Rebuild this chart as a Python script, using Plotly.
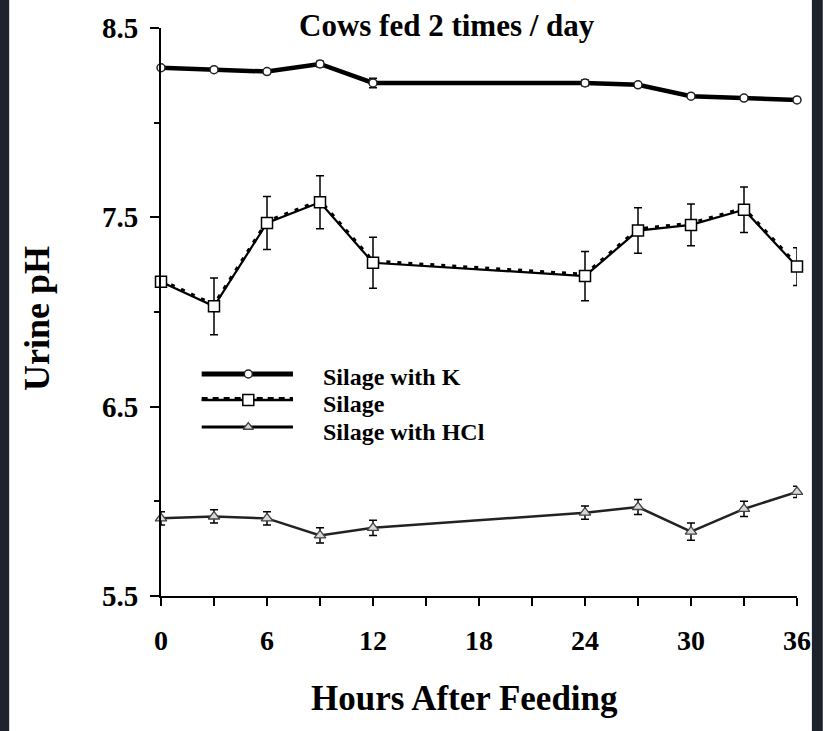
import plotly.graph_objects as go

# ---------------- data ----------------
hours = [0, 3, 6, 9, 12, 24, 27, 30, 33, 36]
ph_k = [8.29, 8.28, 8.27, 8.31, 8.21, 8.21, 8.20, 8.14, 8.13, 8.12]
err_k = [0.01, 0.01, 0.01, 0.015, 0.025, 0.015, 0.01, 0.01, 0.01, 0.01]
ph_silage = [7.16, 7.03, 7.47, 7.58, 7.26, 7.19, 7.43, 7.46, 7.54, 7.24]
err_silage = [0.0, 0.15, 0.14, 0.14, 0.135, 0.13, 0.12, 0.11, 0.12, 0.10]
ph_hcl = [5.91, 5.92, 5.91, 5.82, 5.86, 5.94, 5.97, 5.84, 5.96, 6.05]
err_hcl = [0.035, 0.035, 0.035, 0.04, 0.04, 0.035, 0.04, 0.045, 0.04, 0.03]
series_names = ["Silage with K", "Silage", "Silage with HCl"]
x_tickvals = [0, 3, 6, 9, 12, 15, 18, 21, 24, 27, 30, 33, 36]
x_ticktext = ["0", "", "6", "", "12", "", "18", "", "24", "", "30", "", "36"]
y_tickvals = [5.5, 6.5, 7.5, 8.5]
y_ticktext = ["5.5", "6.5", "7.5", "8.5"]

# ---------------- geometry ----------------
W, H = 823, 731
L, R, T, B = 161, 802, 28, 596  # plot area in pixels
SERIF = "Liberation Serif"


def px(xp):
    return (xp - L) / (R - L)


def py(yp):
    return (B - yp) / (B - T)


fig = go.Figure()

# Silage with K
fig.add_trace(go.Scatter(
    x=hours, y=ph_k, mode="lines+markers", name=series_names[0],
    line=dict(color="black", width=4.5),
    marker=dict(symbol="circle", size=8, color="white",
                line=dict(color="#222", width=1.5)),
    error_y=dict(type="data", array=err_k, color="black", thickness=1.5, width=4),
    cliponaxis=False, showlegend=False))

# Silage (solid + dashed overlay)
fig.add_trace(go.Scatter(
    x=hours, y=ph_silage, mode="lines", name=series_names[1],
    line=dict(color="black", width=2.2), cliponaxis=False, showlegend=False))
fig.add_trace(go.Scatter(
    x=hours, y=[v + 0.008 for v in ph_silage], mode="lines", name=series_names[1],
    line=dict(color="black", width=3.5, dash="4px,7px"), cliponaxis=False,
    showlegend=False, hoverinfo="skip"))
fig.add_trace(go.Scatter(
    x=hours, y=ph_silage, mode="markers", name=series_names[1],
    marker=dict(symbol="square", size=11, color="white",
                line=dict(color="black", width=1.5)),
    error_y=dict(type="data", array=err_silage, color="black", thickness=1.5, width=4),
    cliponaxis=False, showlegend=False))

# Silage with HCl
fig.add_trace(go.Scatter(
    x=hours, y=ph_hcl, mode="lines+markers", name=series_names[2],
    line=dict(color="#222", width=2.5),
    marker=dict(symbol="triangle-up", size=10, color="#d8d8d8",
                line=dict(color="#444", width=1.3)),
    error_y=dict(type="data", array=err_hcl, color="black", thickness=1.5, width=4),
    cliponaxis=False, showlegend=False))

# ---------------- custom legend (pixel-based overlay axes) ----------------
leg_rows = [374, 400, 427]
lx0, lx1, lxm = 202, 294, 249
# K
fig.add_trace(go.Scatter(x=[lx0, lx1], y=[leg_rows[0]] * 2, mode="lines",
                         line=dict(color="black", width=5), xaxis="x2", yaxis="y2",
                         showlegend=False, hoverinfo="skip", cliponaxis=False))
fig.add_trace(go.Scatter(x=[lxm], y=[leg_rows[0]], mode="markers",
                         marker=dict(symbol="circle", size=8, color="white",
                                     line=dict(color="#222", width=1.5)),
                         xaxis="x2", yaxis="y2", showlegend=False, hoverinfo="skip",
                         cliponaxis=False))
# Silage
fig.add_trace(go.Scatter(x=[lx0, lx1], y=[leg_rows[1]] * 2, mode="lines",
                         line=dict(color="black", width=2.5), xaxis="x2", yaxis="y2",
                         showlegend=False, hoverinfo="skip", cliponaxis=False))
fig.add_trace(go.Scatter(x=[lx0, lx1], y=[leg_rows[1] - 1] * 2, mode="lines",
                         line=dict(color="black", width=4, dash="6px,5px"),
                         xaxis="x2", yaxis="y2",
                         showlegend=False, hoverinfo="skip", cliponaxis=False))
fig.add_trace(go.Scatter(x=[lxm], y=[leg_rows[1]], mode="markers",
                         marker=dict(symbol="square", size=11, color="white",
                                     line=dict(color="black", width=1.5)),
                         xaxis="x2", yaxis="y2", showlegend=False, hoverinfo="skip",
                         cliponaxis=False))
# HCl
fig.add_trace(go.Scatter(x=[lx0, lx1], y=[leg_rows[2]] * 2, mode="lines",
                         line=dict(color="black", width=3), xaxis="x2", yaxis="y2",
                         showlegend=False, hoverinfo="skip", cliponaxis=False))
fig.add_trace(go.Scatter(x=[lxm], y=[leg_rows[2]], mode="markers",
                         marker=dict(symbol="triangle-up", size=9, color="#d8d8d8",
                                     line=dict(color="#444", width=1.3)),
                         xaxis="x2", yaxis="y2", showlegend=False, hoverinfo="skip",
                         cliponaxis=False))

annotations = []
for name, yrow in zip(series_names, [375, 402, 430]):
    annotations.append(dict(x=px(322), y=py(yrow + 2), xref="paper", yref="paper",
                            text="<b>%s</b>" % name, showarrow=False,
                            xanchor="left", yanchor="middle",
                            font=dict(family=SERIF, size=24, color="black")))

# Title and axis titles
annotations.append(dict(x=px(449), y=py(26), xref="paper", yref="paper",
                        text="<b>Cows fed 2 times / day</b>", showarrow=False,
                        xanchor="center", yanchor="middle",
                        font=dict(family=SERIF, size=31, color="black")))
annotations.append(dict(x=px(467), y=py(698), xref="paper", yref="paper",
                        text="<b>Hours After Feeding</b>", showarrow=False,
                        xanchor="center", yanchor="middle",
                        font=dict(family=SERIF, size=35, color="black")))
annotations.append(dict(x=px(36), y=py(318), xref="paper", yref="paper",
                        text="<b>Urine pH</b>", showarrow=False, textangle=-90,
                        xanchor="center", yanchor="middle",
                        font=dict(family=SERIF, size=36, color="black")))

# Dark bands at the image edges
shapes = [
    dict(type="rect", xref="paper", yref="paper", x0=px(-5), x1=px(8),
         y0=py(H + 5), y1=py(-5), fillcolor="#1e222c", line=dict(width=0), layer="above"),
    dict(type="rect", xref="paper", yref="paper", x0=px(817), x1=px(W + 5),
         y0=py(H + 5), y1=py(-5), fillcolor="#1e222c", line=dict(width=0), layer="above"),
]

fig.update_layout(
    width=W, height=H,
    margin=dict(l=L, r=W - R, t=T, b=H - B, pad=0),
    paper_bgcolor="white", plot_bgcolor="white",
    showlegend=False,
    annotations=annotations,
    shapes=shapes,
    xaxis=dict(range=[0, 36], tickvals=x_tickvals, ticktext=x_ticktext,
               ticks="outside", ticklen=8, tickwidth=2, tickcolor="black",
               showline=True, linecolor="black", linewidth=2, showgrid=False,
               zeroline=False, ticklabelstandoff=10,
               tickfont=dict(family=SERIF, size=28, color="black", weight="bold")),
    yaxis=dict(range=[5.5, 8.5], tickvals=y_tickvals, ticktext=y_ticktext,
               ticks="outside", ticklen=9, tickwidth=2, tickcolor="black",
               showline=True, linecolor="black", linewidth=2, showgrid=False,
               zeroline=False, ticklabelstandoff=6,
               minor=dict(tickvals=[6.0, 7.0, 8.0], ticks="outside", ticklen=5,
                          tickwidth=1.5, tickcolor="black"),
               tickfont=dict(family=SERIF, size=29, color="black", weight="bold")),
    xaxis2=dict(range=[L, R], overlaying="x", visible=False, fixedrange=True),
    yaxis2=dict(range=[B, T], overlaying="y", visible=False, fixedrange=True),
)

fig.write_html("out.html")
